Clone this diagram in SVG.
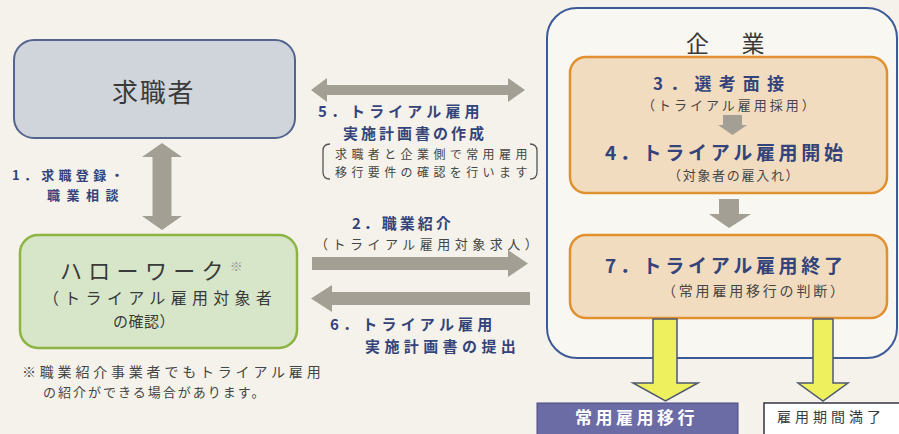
<svg xmlns="http://www.w3.org/2000/svg" width="899" height="434" viewBox="0 0 899 434">
<style>
text{font-family:"Noto Sans CJK JP","Noto Sans",sans-serif;dominant-baseline:central}
.nv{fill:#34447a;font-weight:bold}
.dk{fill:#3a3a3a}
.sm{fill:#454545;font-weight:normal}
.gr{fill:#a39f94}
.yl{fill:#eef05e;stroke:#4f5870;stroke-width:1.5}
.org{fill:#f2dcc0;stroke:#e0902e;stroke-width:2.5}
</style>
<rect width="899" height="434" fill="#f4f2ea"/>
<g id="company">
<rect x="547" y="8" width="350" height="350" rx="30" fill="#f8f7f1" stroke="#3d5a98" stroke-width="2"/>
<text x="686" y="42" font-size="23" class="dk" letter-spacing="4.7">企　業</text>
</g>
<g id="seeker">
<rect x="14" y="40" width="281" height="98" rx="20" fill="#cfd5da" stroke="#55648f" stroke-width="2"/>
<text x="112" y="90" font-size="26" class="dk" letter-spacing="1.7">求職者</text>
</g>
<g id="hellowork">
<rect x="20" y="235" width="277" height="113" rx="18" fill="#d7e6c9" stroke="#8cb443" stroke-width="2.5"/>
<text class="dk"><tspan x="60" y="269" font-size="22" letter-spacing="6.3">ハローワーク</tspan><tspan font-size="13" fill="#9a9a9a" dy="-4">※</tspan><tspan x="43" y="297" font-size="16" letter-spacing="5.3">（トライアル雇用対象者</tspan><tspan x="113" y="320" font-size="15" letter-spacing="0.5">の確認）</tspan></text>
</g>
<g id="note">
<text class="sm"><tspan x="22" y="371" font-size="14" letter-spacing="3.8">※職業紹介事業者でもトライアル雇用</tspan><tspan x="43" y="391" font-size="13" letter-spacing="2">の紹介ができる場合があります。</tspan></text>
</g>
<g id="step3-4">
<rect x="570" y="57" width="317" height="136" rx="16" class="org"/>
<text class="nv"><tspan x="653" y="82" font-size="17" letter-spacing="7.2">3．選考面接</tspan><tspan x="642" y="104" font-size="13" class="sm" letter-spacing="3">（トライアル雇用採用）</tspan></text>
<text class="nv"><tspan x="605" y="151" font-size="19" letter-spacing="3.7">4．トライアル雇用開始</tspan><tspan x="668" y="174" font-size="13" class="sm" letter-spacing="1.7">（対象者の雇入れ）</tspan></text>
</g>
<g id="step7">
<rect x="570" y="235" width="317" height="83" rx="16" class="org"/>
<text class="nv"><tspan x="605" y="264" font-size="19" letter-spacing="3.7">7．トライアル雇用終了</tspan><tspan x="662" y="290" font-size="14" class="sm" letter-spacing="2.8">（常用雇用移行の判断）</tspan></text>
</g>
<g id="regular">
<rect x="537" y="403" width="201" height="34" fill="#6b6ba6" stroke="#4a4a80" stroke-width="1"/>
<text x="575" y="416" font-size="17" fill="#ffffff" font-weight="bold" letter-spacing="3.5">常用雇用移行</text>
</g>
<g id="expiry">
<rect x="764" y="403" width="140" height="34" fill="#ffffff" stroke="#333344" stroke-width="1.5"/>
<text x="777" y="416" font-size="14" class="dk" letter-spacing="4">雇用期間満了</text>
</g>
<g id="connectors">
<polygon class="gr" points="162,143 182,157 171.5,157 171.5,216 182,216 162,230 142,216 152.5,216 152.5,157 142,157"/>
<polygon class="gr" points="311,90 327,78 327,85 508,85 508,78 525,90 508,102 508,95 327,95 327,102"/>
<polygon class="gr" points="312,257 508,257 508,250 528,263.5 508,277 508,270 312,270"/>
<polygon class="gr" points="530,292 332,292 332,285 311,298.5 332,312 332,305 530,305"/>
<polygon class="gr" points="723,115 742,115 742,125 747,125 732.5,135 718,125 723,125"/>
<polygon class="gr" points="719,199 739,199 739,214 751,214 729,228 709,214 719,214"/>
<polygon class="yl" points="653,319 677,319 677,383 698,383 665.5,401 633,383 653,383"/>
<polygon class="yl" points="813,319 833,319 833,383 848,383 823,401 798,383 813,383"/>
<path d="M330,144 Q323,144 323,151 L323,172 Q323,179 330,179 M530,144 Q537,144 537,151 L537,172 Q537,179 530,179" fill="none" stroke="#555" stroke-width="1.3"/>
</g>
<g id="labels">
<text class="nv" font-size="13"><tspan x="12" y="174" letter-spacing="4.3">1．求職登録・</tspan><tspan x="47" y="194" letter-spacing="6.5">職業相談</tspan></text>
<text class="nv" font-size="15"><tspan x="318" y="110" letter-spacing="4.1">5．トライアル雇用</tspan><tspan x="343" y="132" letter-spacing="3">実施計画書の作成</tspan></text>
<text class="sm" font-size="12"><tspan x="335" y="153" letter-spacing="4.4">求職者と企業側で常用雇用</tspan><tspan x="335" y="171" letter-spacing="4.4">移行要件の確認を行います</tspan></text>
<text class="nv"><tspan x="352" y="222" font-size="15" letter-spacing="3">2．職業紹介</tspan><tspan x="315" y="243" font-size="13" class="sm" letter-spacing="4.5">（トライアル雇用対象求人）</tspan></text>
<text class="nv" font-size="15"><tspan x="330" y="323" letter-spacing="4.2">6．トライアル雇用</tspan><tspan x="365" y="345" letter-spacing="4.4">実施計画書の提出</tspan></text>
</g>
</svg>
